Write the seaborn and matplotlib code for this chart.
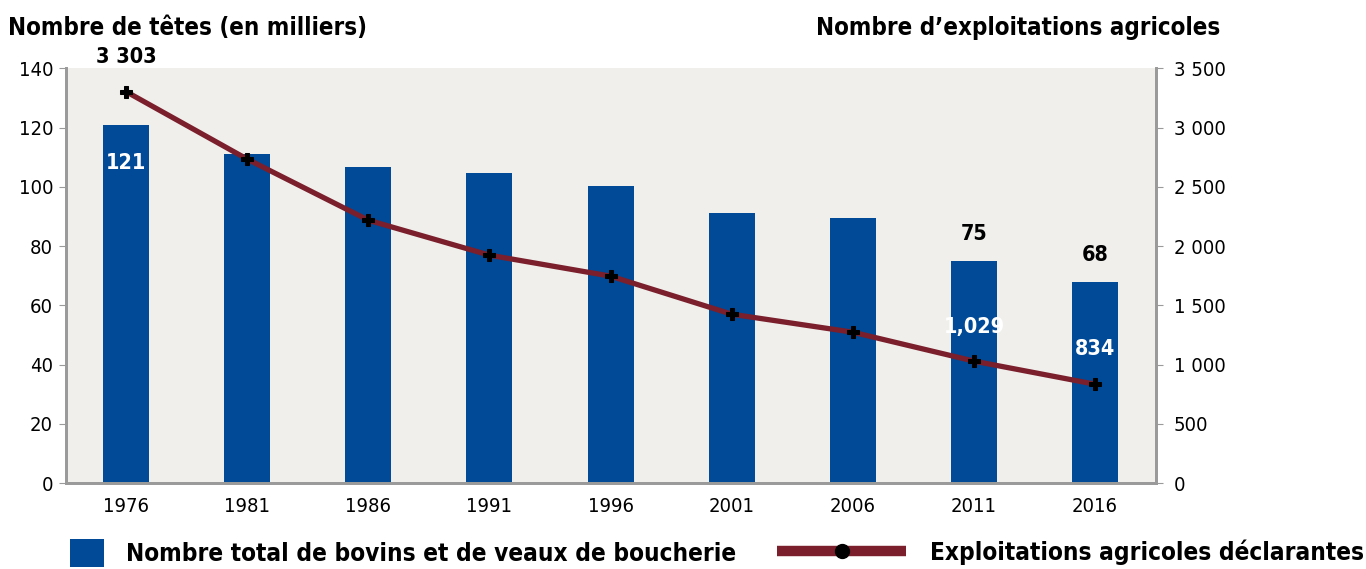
import numpy as np
import seaborn as sns
import matplotlib.pyplot as plt
from matplotlib.lines import Line2D
from matplotlib.patches import Patch

years = ['1976', '1981', '1986', '1991', '1996', '2001', '2006', '2011', '2016']
cattle = [121, 111, 106.6, 104.6, 100.2, 91.1, 89.4, 75, 68]
farms = [3303, 2733, 2218, 1923, 1746, 1425, 1273, 1029, 834]

left_ticks = [0, 20, 40, 60, 80, 100, 120, 140]
right_ticks = [0, 500, 1000, 1500, 2000, 2500, 3000, 3500]
right_labels = ['0', '500', '1 000', '1 500', '2 000', '2 500', '3 000', '3 500']

BLUE = '#004a97'
WINE = '#7a1f2b'
GREY = '#9a9a9a'

sns.set_style('white')
plt.rcParams['font.family'] = ['DejaVu Sans']
plt.rcParams['font.stretch'] = 'condensed'
plt.rcParams['text.color'] = 'black'
plt.rcParams['xtick.color'] = 'black'
plt.rcParams['ytick.color'] = 'black'

fig, ax = plt.subplots(figsize=(13.66, 5.69), dpi=100)
fig.subplots_adjust(left=0.048, right=0.846, top=0.88, bottom=0.151)
ax.set_facecolor('#f0efec')

sns.barplot(x=years, y=cattle, color=BLUE, width=0.38, saturation=1, linewidth=0, ax=ax)
ax.set_ylim(0, 140)
ax.set_yticks(left_ticks)
ax.set_xlim(-0.5, len(years) - 0.5)
ax.tick_params(axis='both', labelsize=14.5, length=5, color=GREY, direction='out', pad=4)
ax.tick_params(axis='x', length=0, pad=10)

ax2 = ax.twinx()
sns.lineplot(x=np.arange(len(years)), y=farms, color=WINE, linewidth=3.8, ax=ax2,
             marker='P', markersize=9, markerfacecolor='black', markeredgecolor='black')
ax2.set_ylim(0, 3500)
ax2.set_yticks(right_ticks)
ax2.set_yticklabels(right_labels)
ax2.tick_params(axis='y', labelsize=14.5, length=5, color=GREY, pad=8)

for a in (ax, ax2):
    for side, sp in a.spines.items():
        sp.set_visible(side in ('left', 'right', 'bottom'))
        sp.set_color(GREY)
        sp.set_linewidth(2)

bold = dict(fontsize=15.5, fontweight='bold', ha='center', va='center')
ax.text(0, cattle[0] - 13, f'{cattle[0]}', color='white', **bold)
ax.text(7, cattle[7] + 9, f'{cattle[7]}', color='black', **bold)
ax.text(8, cattle[8] + 9, f'{cattle[8]}', color='black', **bold)
ax2.text(0, 3593, '3 303', color='black', **bold)
ax2.text(7, farms[7] + 287, '1,029', color='white', **bold)
ax2.text(8, farms[8] + 296, f'{farms[8]}', color='white', **bold)

fig.text(0.006, 0.95, 'Nombre de têtes (en milliers)', fontsize=17.3, fontweight='bold',
         ha='left', va='center')
fig.text(0.893, 0.95, 'Nombre d\u2019exploitations agricoles', fontsize=17.3, fontweight='bold',
         ha='right', va='center')

sq = Patch(facecolor=BLUE, edgecolor='none')
ln = Line2D([0], [0], color=WINE, linewidth=7.5, solid_capstyle='butt', marker='o',
            markersize=10, markerfacecolor='black', markeredgecolor='black')
fig.legend([sq], ['Nombre total de bovins et de veaux de boucherie'],
           loc='center left', bbox_to_anchor=(0.0512, 0.028), frameon=False,
           borderpad=0, borderaxespad=0,
           prop={'size': 17.5, 'weight': 'bold'}, handlelength=1.4, handleheight=1.4,
           handletextpad=0.9)
fig.legend([ln], ['Exploitations agricoles déclarantes'],
           loc='center left', bbox_to_anchor=(0.569, 0.03), frameon=False,
           borderpad=0, borderaxespad=0,
           prop={'size': 17.5, 'weight': 'bold'}, handlelength=5.3, handletextpad=1.0)

fig.savefig('out.png', dpi=100)
